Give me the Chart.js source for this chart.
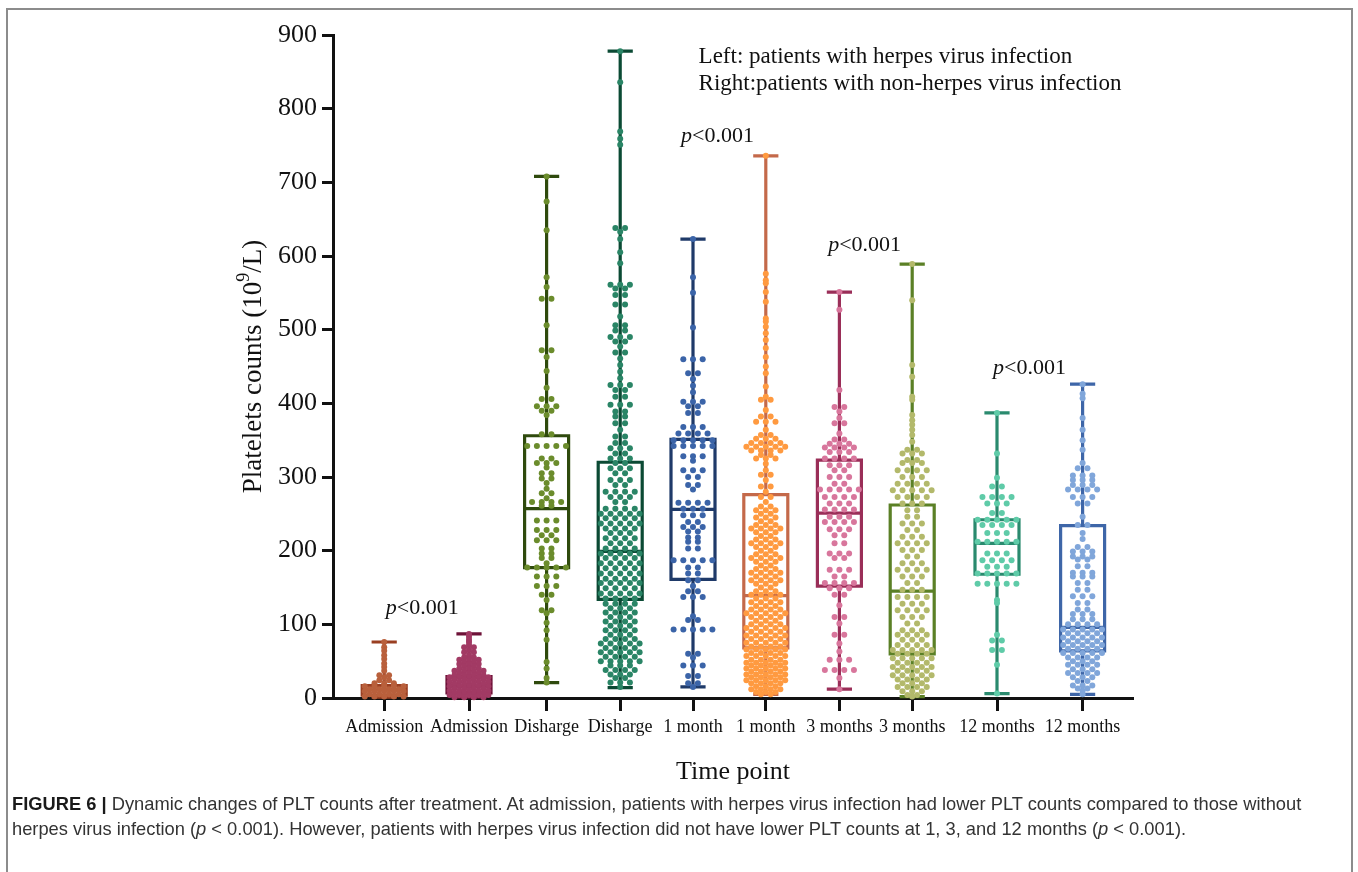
<!DOCTYPE html>
<html><head><meta charset="utf-8">
<script src="https://cdn.jsdelivr.net/npm/chart.js@4.4.1/dist/chart.umd.min.js"></script>
<style>
html,body{margin:0;padding:0;background:#fff;}
#wrap{position:relative;width:1358px;height:872px;overflow:hidden;}
#frame{position:absolute;left:6px;top:8px;right:5px;bottom:-4px;border:2px solid #8c8c8c;border-bottom:none;}
canvas{position:absolute;left:0;top:0;}
#caption{position:absolute;left:12px;top:791px;font-family:'Liberation Sans',Arial,sans-serif;font-size:16px;color:#333;line-height:25px;white-space:nowrap;}
#caption b{color:#1a1a1a;}
</style></head><body>
<div id="wrap">
<div id="frame"></div>
<canvas id="c" width="1358" height="872"></canvas>
<div id="caption"><span id="l1"><b>FIGURE 6 |</b> Dynamic changes of PLT counts after treatment. At admission, patients with herpes virus infection had lower PLT counts compared to those without</span><br><span>herpes virus infection (<i>p</i> &lt; 0.001). However, patients with herpes virus infection did not have lower PLT counts at 1, 3, and 12 months (<i>p</i> &lt; 0.001).</span></div>
</div>
<script>
// ---------- data ----------
const categories = ['Admission','Admission','Disharge','Disharge','1 month','1 month','3 months','3 months','12 months','12 months'];
const groupNames = ['Admission herpes','Admission non-herpes','Discharge herpes','Discharge non-herpes','1 month herpes','1 month non-herpes','3 months herpes','3 months non-herpes','12 months herpes','12 months non-herpes'];
const yTicks = [0,100,200,300,400,500,600,700,800,900];
const minV = [1, 1, 21, 14, 15, 5, 12, 2, 6, 5];
const q1V  = [4, 7, 177, 134, 161, 68, 152, 60, 168, 64];
const medV = [11, 16, 257, 199, 256, 139, 251, 145, 210, 96];
const q3V  = [17, 29, 356, 320, 351, 276, 323, 262, 242, 234];
const maxV = [76, 87, 708, 878, 623, 736, 551, 589, 387, 426];

// dot rows: [value, number of dots in that row]
const dotsAdmHerpes = [[76,1],[69,1],[64,1],[58,1],[53,1],[47,1],[42,1],[37,1],[31,2],[28,1],[24,2],[20,3],[16,5],[12,4],[9,5],[5,4],[2,5]];
const dotsAdmOther = [[87,1],[83,1],[79,1],[76,1],[72,1],[69,2],[65,1],[62,2],[58,1],[55,2],[52,3],[49,2],[46,3],[43,2],[40,3],[37,4],[34,3],[31,4],[28,5],[25,4],[22,5],[19,4],[16,5],[13,4],[10,5],[7,4],[4,5],[1,4]];
const dotsDisHerpes = [[708,1],[674,1],[635,1],[571,1],[558,1],[542,2],[506,1],[472,2],[463,1],[444,1],[421,1],[406,2],[396,3],[390,2],[384,1],[358,2],[342,5],[325,2],[319,3],[313,1],[305,2],[298,2],[292,1],[284,1],[278,2],[271,1],[266,4],[261,2],[241,3],[228,3],[221,2],[214,3],[203,2],[196,2],[190,2],[183,1],[177,5],[165,3],[152,3],[140,2],[133,1],[119,2],[115,1],[102,1],[92,1],[79,1],[49,1],[40,1],[27,1],[21,1]];
const dotsDisOther = [[878,1],[836,1],[769,1],[759,1],[751,1],[638,2],[633,1],[623,1],[605,1],[590,1],[561,3],[556,2],[547,2],[534,2],[518,1],[506,2],[499,2],[490,3],[484,2],[477,1],[469,2],[461,1],[452,1],[443,1],[434,1],[425,3],[418,2],[409,2],[398,3],[389,2],[382,2],[373,2],[364,1],[355,2],[346,2],[339,3],[332,2],[325,3],[319,2],[312,3],[305,2],[296,3],[289,2],[280,4],[273,3],[266,2],[257,4],[250,5],[244,4],[237,5],[230,4],[224,3],[217,4],[210,3],[203,4],[196,5],[190,4],[183,5],[176,4],[169,5],[162,4],[156,5],[149,4],[142,5],[135,4],[128,4],[122,3],[116,4],[110,3],[104,4],[98,3],[92,4],[86,3],[80,4],[74,5],[68,4],[62,5],[56,4],[50,5],[44,3],[38,4],[32,3],[27,2],[21,3],[15,1]];
const dotsM1Herpes = [[623,1],[571,1],[550,1],[503,1],[460,3],[441,2],[433,1],[424,1],[415,1],[402,3],[396,2],[387,2],[368,3],[359,4],[350,5],[342,5],[328,3],[322,1],[309,3],[300,2],[289,2],[283,1],[265,4],[257,3],[248,3],[239,2],[232,3],[226,2],[218,2],[212,2],[203,2],[187,5],[177,2],[169,2],[160,2],[152,1],[145,2],[137,3],[111,1],[106,2],[93,5],[60,2],[55,1],[44,3],[30,2],[20,2],[15,1]];
const dotsM1Other = [[736,1],[576,1],[567,1],[563,1],[551,1],[538,1],[515,1],[511,1],[504,1],[495,1],[486,1],[475,1],[463,1],[450,1],[441,1],[423,1],[409,1],[405,2],[391,1],[382,2],[375,3],[364,1],[357,2],[352,3],[346,4],[341,5],[336,4],[330,2],[325,3],[318,1],[309,1],[303,2],[296,1],[287,2],[280,1],[273,2],[266,1],[260,2],[255,3],[250,2],[245,3],[240,2],[235,3],[230,4],[225,3],[220,2],[215,3],[210,4],[205,3],[200,2],[195,3],[190,4],[185,3],[180,2],[175,3],[170,4],[165,3],[160,4],[155,3],[150,2],[145,3],[140,4],[135,3],[130,4],[125,3],[120,4],[115,5],[110,4],[105,3],[100,4],[95,5],[90,4],[85,5],[80,4],[75,5],[70,4],[66,5],[61,4],[57,5],[52,4],[48,5],[44,4],[40,5],[36,4],[32,5],[28,4],[24,5],[20,4],[16,3],[12,4],[8,3],[5,2]];
const dotsM3Herpes = [[551,1],[527,1],[418,1],[395,2],[389,1],[380,1],[373,2],[359,1],[351,2],[345,3],[340,4],[334,3],[325,4],[316,3],[309,2],[300,3],[291,2],[283,5],[273,4],[264,3],[256,4],[246,3],[239,4],[229,3],[221,2],[210,2],[196,3],[190,2],[174,3],[165,2],[156,4],[149,3],[140,2],[126,1],[110,2],[101,1],[86,2],[74,1],[63,1],[52,3],[38,4],[27,1],[12,1]];
const dotsM3Other = [[589,1],[540,1],[452,1],[436,1],[409,1],[405,1],[384,1],[377,1],[371,1],[364,1],[357,1],[348,1],[337,2],[332,3],[323,2],[319,3],[309,4],[300,3],[291,4],[282,5],[273,4],[264,3],[255,2],[246,2],[237,3],[228,2],[219,3],[210,4],[201,3],[192,2],[183,3],[174,4],[165,3],[156,2],[147,3],[137,4],[128,3],[119,4],[110,3],[101,2],[92,3],[86,4],[79,3],[72,4],[65,5],[60,4],[54,5],[48,4],[42,5],[37,4],[31,5],[25,4],[20,3],[15,4],[9,3],[4,2],[2,1]];
const dotsM12Herpes = [[387,1],[332,1],[299,1],[287,2],[273,4],[264,3],[251,2],[242,5],[235,4],[224,3],[212,5],[196,3],[187,4],[178,3],[169,5],[155,5],[133,1],[129,1],[86,1],[78,2],[65,2],[45,1],[6,1]];
const dotsM12Other = [[426,1],[413,1],[407,1],[380,1],[364,1],[350,1],[337,1],[319,1],[312,2],[302,3],[296,3],[289,3],[283,4],[273,3],[264,2],[246,1],[235,2],[224,1],[216,1],[205,2],[199,3],[192,3],[188,2],[179,2],[170,3],[165,3],[156,2],[147,2],[138,3],[129,2],[120,2],[114,3],[107,3],[100,4],[93,5],[88,4],[82,5],[77,4],[72,5],[67,4],[61,5],[55,4],[50,3],[45,4],[39,3],[34,4],[28,3],[23,2],[17,3],[13,2],[10,1],[5,1]];
const dotRows = [dotsAdmHerpes, dotsAdmOther, dotsDisHerpes, dotsDisOther, dotsM1Herpes, dotsM1Other, dotsM3Herpes, dotsM3Other, dotsM12Herpes, dotsM12Other];

const pLabels = [{x:0.66,y:122},{x:4.35,y:763},{x:6.19,y:615},{x:8.25,y:448}];
const legendLines = ['Left: patients with herpes virus infection','Right:patients with non-herpes virus infection'];

// ---------- layout / style ----------
const catPos = [0.64, 1.70, 2.67, 3.59, 4.50, 5.41, 6.33, 7.24, 8.30, 9.37];
const boxColors = ['#9a3f22','#6e1238','#2f4a0d','#0b4a34','#1f3a69','#c4694a','#9a2e58','#5b8026','#2a8a6e','#3e66a8'];
const dotColors = ['#b9603c','#a23a64','#6b8c2c','#2a8566','#3b64a8','#ff9a40','#d8769c','#b3b96b','#5fcba8','#80a6da'];
const PX_PER_X = 80;
const DOT_GAP = 9.7 / PX_PER_X;
const BOX_HALF = 22 / PX_PER_X;
const CAP_HALF = 11 / PX_PER_X;
const SERIF = '"Liberation Serif", "Times New Roman", serif';

function dotPoints(rows, c){
  const pts = [];
  rows.forEach(([v,n]) => { for (let k=0;k<n;k++) pts.push({x: c + (k-(n-1)/2)*DOT_GAP, y: v}); });
  return pts;
}
function boxPath(i){
  const s = catPos[i], h = BOX_HALF, c = CAP_HALF, gap = {x:s, y:null};
  return [
    {x:s-c,y:maxV[i]},{x:s+c,y:maxV[i]},gap,
    {x:s,y:maxV[i]},{x:s,y:q3V[i]},gap,
    {x:s-h,y:q1V[i]},{x:s+h,y:q1V[i]},{x:s+h,y:q3V[i]},{x:s-h,y:q3V[i]},{x:s-h,y:q1V[i]},gap,
    {x:s-h,y:medV[i]},{x:s+h,y:medV[i]},gap,
    {x:s,y:q1V[i]},{x:s,y:minV[i]},gap,
    {x:s-c,y:minV[i]},{x:s+c,y:minV[i]}
  ];
}

const dotSets = dotRows.map((rows,i) => ({
  type:'scatter', label: groupNames[i], data: dotPoints(rows, catPos[i]),
  backgroundColor: dotColors[i], borderWidth:0, pointRadius:3, pointHoverRadius:3, showLine:false, clip:false
}));
const boxSets = groupNames.map((n,i) => ({
  type:'line', label: n+' box', data: boxPath(i), borderColor: boxColors[i], borderWidth:3.2,
  pointRadius:0, spanGaps:false, tension:0, fill:false, borderCapStyle:'square', borderJoinStyle:'miter', clip:false
}));

const textPlugin = {
  id:'texts',
  afterDraw(chart){
    const {ctx, chartArea, scales:{x, y}} = chart;
    ctx.save();
    ctx.fillStyle = '#111';
    // y-axis title with superscript
    ctx.save();
    ctx.translate(chartArea.left - 81, (chartArea.top + chartArea.bottom)/2);
    ctx.rotate(-Math.PI/2);
    const fMain = '27px ' + SERIF, fSup = '18px ' + SERIF;
    ctx.font = fMain; const a = 'Platelets counts (10', b = '/L)';
    const wa = ctx.measureText(a).width, wb = ctx.measureText(b).width;
    ctx.font = fSup; const ws = ctx.measureText('9').width;
    let sx = -(wa + ws + wb)/2;
    ctx.textBaseline = 'alphabetic'; ctx.textAlign = 'left';
    ctx.font = fMain; ctx.fillText(a, sx, 9); sx += wa;
    ctx.font = fSup; ctx.fillText('9', sx, -3); sx += ws;
    ctx.font = fMain; ctx.fillText(b, sx, 9);
    ctx.restore();
    // p-value labels
    ctx.textBaseline = 'middle'; ctx.textAlign = 'left';
    pLabels.forEach(p => {
      const px = x.getPixelForValue(p.x), py = y.getPixelForValue(p.y);
      ctx.font = 'italic 22px ' + SERIF; ctx.fillText('p', px, py);
      const w = ctx.measureText('p').width;
      ctx.font = '22px ' + SERIF; ctx.fillText('<0.001', px + w, py);
    });
    // legend text
    ctx.font = '23px ' + SERIF;
    const lx = x.getPixelForValue(4.57);
    ctx.fillText(legendLines[0], lx, y.getPixelForValue(870));
    ctx.fillText(legendLines[1], lx, y.getPixelForValue(833));
    ctx.restore();
  }
};

new Chart(document.getElementById('c'), {
  data: { datasets: [...dotSets, ...boxSets] },
  options: {
    responsive:false, animation:false, devicePixelRatio:1,
    layout:{ padding:{ top:35, right:225, bottom:0, left:0 } },
    plugins:{ legend:{display:false}, tooltip:{enabled:false} },
    scales:{
      x:{ type:'linear', min:0, max:10,
        afterBuildTicks: s => { s.ticks = catPos.map(v => ({value:v})); },
        afterFit: s => { s.height = 174; },
        ticks:{ autoSkip:false, maxRotation:0, minRotation:0, padding:5, color:'#111',
          font:{ family:SERIF, size:18 }, callback:(v,i) => categories[i] },
        grid:{ display:true, drawOnChartArea:false, drawTicks:true, tickLength:13, tickWidth:3, tickColor:'#111' },
        border:{ display:true, width:3, color:'#111' },
        title:{ display:true, text:'Time point', color:'#111', font:{ family:SERIF, size:26 }, padding:{ top:0, bottom:84 } }
      },
      y:{ type:'linear', min:0, max:900,
        afterBuildTicks: s => { s.ticks = yTicks.map(v => ({value:v})); },
        afterFit: s => { s.width = 333; },
        ticks:{ padding:5, color:'#111', font:{ family:SERIF, size:26 } },
        grid:{ display:true, drawOnChartArea:false, drawTicks:true, tickLength:11, tickWidth:3, tickColor:'#111' },
        border:{ display:true, width:3, color:'#111' }
      }
    }
  },
  plugins:[textPlugin]
});

// fit caption line width to the figure
(function(){
  const cap = document.getElementById('caption'), l1 = document.getElementById('l1');
  const w = l1.getBoundingClientRect().width;
  cap.style.fontSize = (16 * 1290 / w).toFixed(2) + 'px';
})();
</script>
</body></html>
